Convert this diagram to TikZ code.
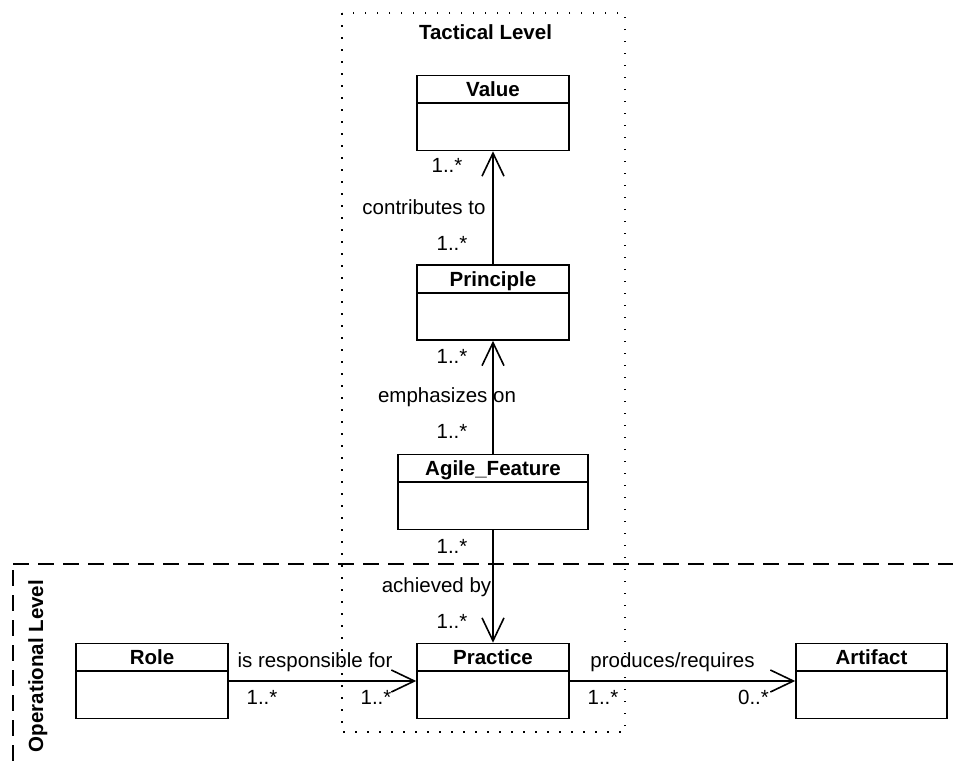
\documentclass[tikz,border=0pt]{standalone}
\usepackage{fontspec}
\setmainfont{Liberation Sans}
\usetikzlibrary{arrows.meta,positioning,calc}

% class box with a name compartment and an empty body
\newcommand{\umlclass}[4]{%
  \node[classbox, minimum width=#3] (#1) at (#2) {};
  \draw[line width=1.6pt] ([yshift=-28.5pt]#1.north west) -- ([yshift=-28.5pt]#1.north east);
  \node[cname] at ([yshift=-22pt]#1.north) {#4};
}

\begin{document}
\begin{tikzpicture}[x=1pt, y=-1pt, font=\fontsize{20.5}{24}\selectfont,
  >={Straight Barb[length=23pt, width=22pt]},
  classbox/.style={draw, line width=1.6pt, inner sep=0pt, minimum height=75pt},
  cname/.style={anchor=base, inner sep=0pt, font=\fontsize{20.5}{24}\selectfont\bfseries},
  lab/.style={anchor=base, inner sep=0pt},
  assoc/.style={->, line width=1.6pt}]
  \useasboundingbox (0,0) rectangle (953,769);

  % levels
  \draw[line width=1.5pt, dash pattern=on 1.5pt off 10.5pt] (342,13) rectangle (625,732);
  \node[cname] at (485.5,39) {Tactical Level};
  \draw[line width=1.6pt, dash pattern=on 16pt off 9pt] (13,564) -- (953,564);
  \draw[line width=1.6pt, dash pattern=on 16pt off 9pt] (13,570) -- (13,769);
  \node[cname, rotate=90] at (43,666) {Operational Level};

  % classes
  \umlclass{value}{493,113}{152pt}{Value}
  \umlclass{principle}{493,302.5}{152pt}{Principle}
  \umlclass{feature}{493,492}{190pt}{Agile\_Feature}
  \umlclass{practice}{493,681}{152pt}{Practice}
  \umlclass{role}{152,681}{152pt}{Role}
  \umlclass{artifact}{871.5,681}{151pt}{Artifact}

  % associations
  \draw[assoc] (principle) -- (value);
  \node[lab] at (447,172) {1..*};
  \node[lab] at (424,214.5) {contributes to};
  \node[lab] at (452,250) {1..*};

  \draw[assoc] (feature) -- (principle);
  \node[lab] at (452,363) {1..*};
  \node[lab] at (447,402) {emphasizes on};
  \node[lab] at (452,438) {1..*};

  \draw[assoc] (feature) -- (practice);
  \node[lab] at (452,553) {1..*};
  \node[lab] at (436.5,592) {achieved by};
  \node[lab] at (452,628) {1..*};

  \draw[assoc] (role) -- (practice);
  \node[lab] at (315,667) {is responsible for};
  \node[lab] at (262,704) {1..*};
  \node[lab] at (376,704) {1..*};

  \draw[assoc] (practice) -- (artifact);
  \node[lab] at (672.5,667) {produces/requires};
  \node[lab] at (603,704) {1..*};
  \node[lab] at (753.5,704) {0..*};
\end{tikzpicture}
\end{document}
